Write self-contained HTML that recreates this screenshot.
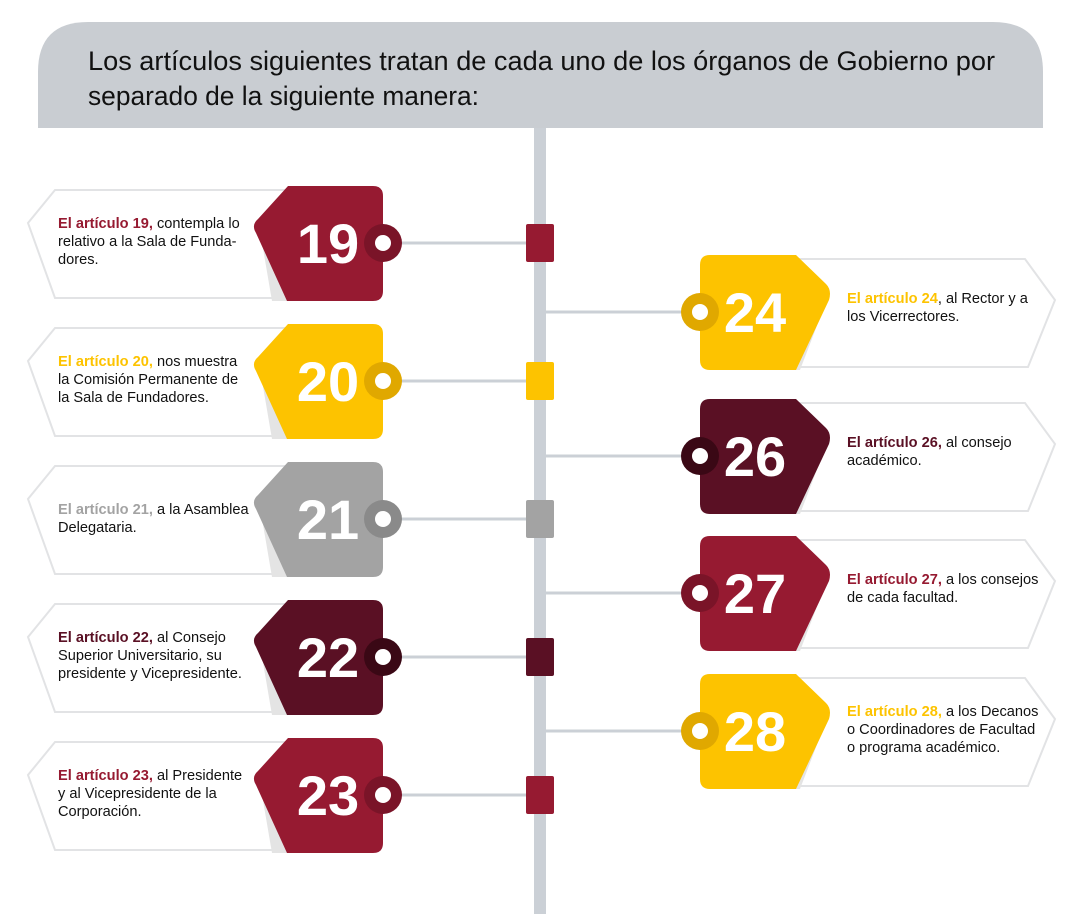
<!DOCTYPE html>
<html><head><meta charset="utf-8"><style>
html,body{margin:0;padding:0;background:#fff;}
svg{display:block;font-family:"Liberation Sans",Arial,sans-serif;}
</style></head><body>
<svg id="s" width="1080" height="914" viewBox="0 0 1080 914" xmlns="http://www.w3.org/2000/svg">
<path d="M38,128 V72 Q38,22 88,22 H993 Q1043,22 1043,72 V128 Z" fill="#c9cdd2"/>
<text x="88" y="70" font-size="27" textLength="907" lengthAdjust="spacingAndGlyphs" fill="#111">Los artículos siguientes tratan de cada uno de los órganos de Gobierno por</text>
<text x="88" y="105" font-size="27" textLength="391" lengthAdjust="spacingAndGlyphs" fill="#111">separado de la siguiente manera:</text>
<rect x="534" y="128" width="12" height="786" fill="#cbd0d6"/>
<g id="items"></g>
</svg>
<script>
const NS='http://www.w3.org/2000/svg';
const C={red:['#961a31','#7a1428'],yel:['#fdc300','#e0a800'],gray:['#a3a3a3','#8a8a8a'],dark:['#5a1024','#3a0815']};
const leftItems=[
 {n:'19',y:243,c:'red',lines:[['El artículo 19,',' contempla lo'],['','relativo a la Sala de Funda-'],['','dores.']]},
 {n:'20',y:381,c:'yel',lines:[['El artículo 20,',' nos muestra'],['','la Comisión Permanente de'],['','la Sala de Fundadores.']]},
 {n:'21',y:519,c:'gray',lines:[['El artículo 21,',' a la Asamblea'],['','Delegataria.']]},
 {n:'22',y:657,c:'dark',lines:[['El artículo 22,',' al Consejo'],['','Superior Universitario, su'],['','presidente y Vicepresidente.']]},
 {n:'23',y:795,c:'red',lines:[['El artículo 23,',' al Presidente'],['','y al Vicepresidente de la'],['','Corporación.']]}
];
const rightItems=[
 {n:'24',y:312,c:'yel',lines:[['El artículo 24',', al Rector y a'],['','los Vicerrectores.']]},
 {n:'26',y:456,c:'dark',lines:[['El artículo 26,',' al consejo'],['','académico.']]},
 {n:'27',y:593,c:'red',lines:[['El artículo 27,','  a los consejos'],['','de cada facultad.']]},
 {n:'28',y:731,c:'yel',lines:[['El artículo 28,',' a los Decanos'],['','o Coordinadores de Facultad'],['','o programa académico.']]}
];
const g=document.getElementById('items');
function el(t,a,p){const e=document.createElementNS(NS,t);for(const k in a)e.setAttribute(k,a[k]);(p||g).appendChild(e);return e;}
function text(x,y0,lines,col,name){
  const t=el('text',{x:x,y:y0,'font-size':14.6,fill:'#111'});
  
  
  lines.forEach((l,i)=>{
    const ts=el('tspan',{x:x,y:y0+i*18},t);
    if(l[0]){const b=el('tspan',{fill:col,'font-weight':'bold'},ts);b.textContent=l[0];}
    const r=el('tspan',{},ts);r.textContent=l[1];
  });
}
leftItems.forEach(it=>{
  const y=it.y,[c1,c2]=C[it.c];
  const card=el('path',{d:`M55,${y-53} H292 V${y+55} H55 L28,${y-20} Z`,fill:'#fff',stroke:'#e2e3e5','stroke-width':2});
  
  
  el('path',{d:`M260,${y-12} L298,${y+58} L272,${y+58} Z`,fill:'#e4e4e4'});
  const tag=el('path',{d:`M288,${y-57} H373 Q383,${y-57} 383,${y-47} V${y+48} Q383,${y+58} 373,${y+58} H287 L256,${y-10} Q251,${y-18} 258,${y-24} Z`,fill:c1});
  
  
  const num=el('text',{x:328,y:y+20,'font-size':56,'font-weight':'bold',fill:'#fff','text-anchor':'middle'});
  num.textContent=it.n;
  
  
  el('line',{x1:401,y1:y,x2:530,y2:y,stroke:'#cbd0d6','stroke-width':3});
  el('circle',{cx:383,cy:y,r:19,fill:c2});
  el('circle',{cx:383,cy:y,r:8,fill:'#fff'});
  const sq=el('rect',{x:526,y:y-19,width:28,height:38,rx:2,fill:c1});
  
  
  text(58,it.lines.length==2?y-5:y-15,it.lines,c1,'description-'+it.n);
});
rightItems.forEach(it=>{
  const y=it.y,[c1,c2]=C[it.c];
  const card=el('path',{d:`M795,${y-53} H1025 L1055,${y-12} L1028,${y+55} H795 Z`,fill:'#fff',stroke:'#e2e3e5','stroke-width':2});
  
  
  el('path',{d:`M826,${y-10} L800,${y+58} L785,${y+58} Z`,fill:'#e4e4e4'});
  const tag=el('path',{d:`M710,${y-57} H796 L826,${y-28} Q832,${y-22} 829,${y-12} L796,${y+58} H710 Q700,${y+58} 700,${y+48} V${y-47} Q700,${y-57} 710,${y-57} Z`,fill:c1});
  
  
  const num=el('text',{x:755,y:y+20,'font-size':56,'font-weight':'bold',fill:'#fff','text-anchor':'middle'});
  num.textContent=it.n;
  
  
  el('line',{x1:546,y1:y,x2:682,y2:y,stroke:'#cbd0d6','stroke-width':3});
  el('circle',{cx:700,cy:y,r:19,fill:c2});
  el('circle',{cx:700,cy:y,r:8,fill:'#fff'});
  text(847,it.lines.length==2?y-9:y-15,it.lines,c1,'description-'+it.n);
});
</script>
</body></html>
